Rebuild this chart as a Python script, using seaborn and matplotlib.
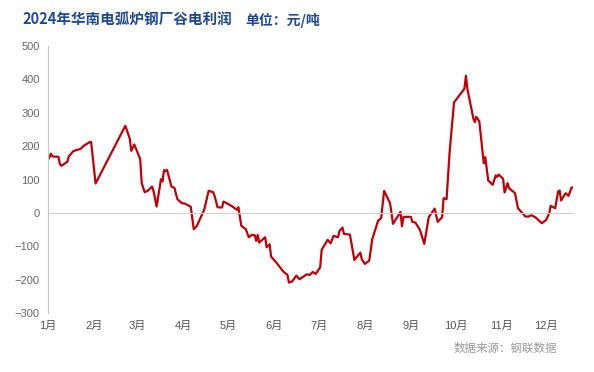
import pandas as pd
import matplotlib
matplotlib.use("Agg")
import matplotlib.pyplot as plt
import matplotlib.dates as mdates
import seaborn as sns

# values (yuan/ton)
dates = [
    "2024-01-01", "2024-01-03", "2024-01-04", "2024-01-08", "2024-01-09", "2024-01-10",
    "2024-01-14", "2024-01-15", "2024-01-18", "2024-01-23", "2024-01-25", "2024-01-29",
    "2024-01-30", "2024-02-02", "2024-02-22", "2024-02-25", "2024-02-26", "2024-02-28",
    "2024-03-03", "2024-03-04", "2024-03-06", "2024-03-08", "2024-03-11", "2024-03-12",
    "2024-03-14", "2024-03-17", "2024-03-18", "2024-03-19", "2024-03-20", "2024-03-21",
    "2024-03-24", "2024-03-26", "2024-03-28", "2024-03-31", "2024-04-02", "2024-04-06",
    "2024-04-08", "2024-04-10", "2024-04-15", "2024-04-18", "2024-04-21", "2024-04-22",
    "2024-04-24", "2024-04-27", "2024-04-28", "2024-05-01", "2024-05-04", "2024-05-07",
    "2024-05-08", "2024-05-10", "2024-05-13", "2024-05-15", "2024-05-17", "2024-05-19",
    "2024-05-20", "2024-05-21", "2024-05-22", "2024-05-26", "2024-05-27", "2024-05-29",
    "2024-05-30", "2024-06-01", "2024-06-04", "2024-06-07", "2024-06-10", "2024-06-11",
    "2024-06-13", "2024-06-16", "2024-06-18", "2024-06-23", "2024-06-25", "2024-06-27",
    "2024-06-29", "2024-07-02", "2024-07-03", "2024-07-07", "2024-07-09", "2024-07-11",
    "2024-07-14", "2024-07-15", "2024-07-17", "2024-07-18", "2024-07-22", "2024-07-25",
    "2024-07-29", "2024-07-30", "2024-08-01", "2024-08-04", "2024-08-06", "2024-08-10",
    "2024-08-12", "2024-08-14", "2024-08-18", "2024-08-20", "2024-08-25", "2024-08-26",
    "2024-08-27", "2024-09-01", "2024-09-02", "2024-09-04", "2024-09-07", "2024-09-10",
    "2024-09-13", "2024-09-17", "2024-09-19", "2024-09-22", "2024-09-23", "2024-09-25",
    "2024-09-27", "2024-09-30", "2024-10-07", "2024-10-08", "2024-10-09", "2024-10-13",
    "2024-10-14", "2024-10-15", "2024-10-17", "2024-10-20", "2024-10-21", "2024-10-23",
    "2024-10-26", "2024-10-28", "2024-10-29", "2024-10-30", "2024-11-02", "2024-11-03",
    "2024-11-05", "2024-11-06", "2024-11-10", "2024-11-12", "2024-11-13", "2024-11-17",
    "2024-11-19", "2024-11-21", "2024-11-24", "2024-11-28", "2024-12-01", "2024-12-03",
    "2024-12-04", "2024-12-07", "2024-12-09", "2024-12-10", "2024-12-11", "2024-12-14",
    "2024-12-16", "2024-12-18", "2024-12-19",
]
profit = [
    159, 177, 169, 168, 146, 141,
    153, 169, 185, 192, 201, 212,
    212, 88, 261, 222, 186, 205,
    161, 89, 62, 66, 79, 65,
    19, 101, 94, 128, 125, 129,
    79, 75, 41, 29, 28, 18,
    -49, -40, 9, 66, 62, 51,
    17, 16, 34, 27, 19, 9,
    17, -39, -49, -73, -66, -67,
    -84, -66, -89, -73, -103, -94,
    -131, -141, -157, -175, -186, -209,
    -206, -188, -199, -184, -186, -177,
    -183, -163, -111, -81, -91, -69,
    -73, -54, -44, -63, -65, -141,
    -119, -139, -153, -143, -79, -23,
    -16, 66, 29, -33, 3, -40,
    -12, -12, -27, -29, -50, -93,
    -13, 13, -27, -13, 44, 41,
    180, 331, 372, 411, 371, 283,
    272, 288, 274, 149, 167, 97,
    84, 112, 108, 115, 102, 61,
    89, 74, 59, 14, 9, -11,
    -11, -7, -14, -31, -21, -1,
    21, 14, 64, 67, 37, 59,
    51, 76, 76,
]
month_labels = ["1月", "2月", "3月", "4月", "5月", "6月",
                "7月", "8月", "9月", "10月", "11月", "12月"]
y_ticks = [-300, -200, -100, 0, 100, 200, 300, 400, 500]

df = pd.DataFrame({"date": pd.to_datetime(dates), "profit": profit})

sns.set_style("white")
plt.rcParams["font.family"] = ["Liberation Sans", "Noto Sans CJK SC"]
plt.rcParams["axes.unicode_minus"] = True

fig = plt.figure(figsize=(5.94, 3.72), dpi=100)
ax = fig.add_axes([48 / 594, 1 - 313 / 372, (573 - 48) / 594, (313 - 46) / 372])

sns.lineplot(data=df, x="date", y="profit", ax=ax, color="#c00008", linewidth=1.6)

ax.set_xlim(pd.Timestamp("2024-01-01"), pd.Timestamp("2024-12-19"))
ax.set_ylim(-300, 500)
ax.set_yticks(y_ticks)
ax.set_xlabel("")
ax.set_ylabel("")

for side in ["top", "right"]:
    ax.spines[side].set_visible(False)
ax.spines["left"].set_color("#c8c8c8")
ax.spines["bottom"].set_position(("data", 0))
ax.spines["bottom"].set_color("#d0d0d0")

month_starts = pd.date_range("2024-01-01", periods=12, freq="MS")
ax.set_xticks(month_starts)
ax.set_xticklabels([])
ax.tick_params(axis="x", direction="out", length=4, width=0.8, color="#d0d0d0")
ax.tick_params(axis="y", direction="out", length=4, width=0.8, color="#c8c8c8",
               labelcolor="#666666", labelsize=8, pad=2)

# month labels sit under the plot area, not under the zero line
sec = ax.secondary_xaxis("bottom")
sec.set_xticks(month_starts)
sec.set_xticklabels(month_labels)
sec.tick_params(length=0, labelcolor="#555555", labelsize=8, pad=6)
sec.spines["bottom"].set_visible(False)

fig.text(22 / 594, 1 - 20 / 372, "2024年华南电弧炉钢厂谷电利润", color="#1f4a93",
         fontsize=10.5, fontweight="bold", va="center", ha="left",
         family=["Noto Sans CJK SC"])
fig.text(245 / 594, 1 - 20 / 372, "单位：元/吨", color="#1f4a93",
         fontsize=10, fontweight="bold", va="center", ha="left",
         family=["Noto Sans CJK SC"])
fig.text(557 / 594, 1 - 348 / 372, "数据来源：钢联数据", color="#999999",
         fontsize=8.3, va="center", ha="right", family=["Noto Sans CJK SC"])

fig.savefig("out.png", dpi=100)
